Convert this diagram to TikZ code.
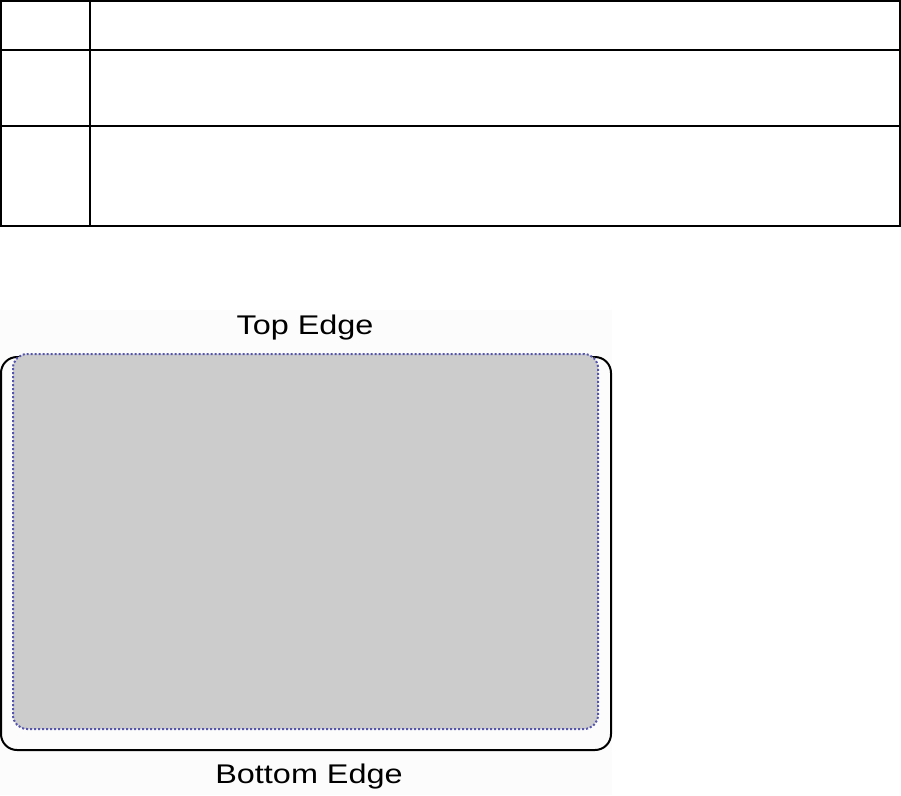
\documentclass[tikz,border=0pt]{standalone}
\usepackage{fontspec}
\setmainfont{Liberation Sans}
\usetikzlibrary{positioning}

\definecolor{cardgray}{RGB}{204,204,204}
\definecolor{dotblue}{RGB}{85,85,175}
\definecolor{backdrop}{RGB}{252,252,252}
\newcommand{\widetext}[1]{\scalebox{1.2}[1]{#1}}

\begin{document}
\begin{tikzpicture}[x=1pt,y=-1pt]

\tikzset{rule/.style = {line width=2pt, line cap=rect}}
\tikzset{cardouter/.style = {draw=black, line width=2pt, rounded corners=16pt}}
\tikzset{cardinner/.style = {fill=cardgray, draw=dotblue, line width=2pt, dash pattern=on 2pt off 2pt, rounded corners=14pt}}
\tikzset{edgetext/.style = {anchor=base, inner sep=0pt, font=\fontsize{27}{32}\selectfont}}

\useasboundingbox (0,0) rectangle (901,795);

% table
\draw[rule] (1,1) rectangle (900,226);
\draw[rule] (1,50) -- (900,50);
\draw[rule] (1,126) -- (900,126);
\draw[rule] (90,1) -- (90,226);

% card
\fill[backdrop] (0,310) rectangle (612,795);
\draw[cardouter] (1,357) rectangle (611,750);
\path[cardinner] (13,354) rectangle (598,729);

% labels
\node[edgetext] (top) at (305,334) {\widetext{Top Edge}};
\node[edgetext] (bottom) at (309,783) {\widetext{Bottom Edge}};

\end{tikzpicture}
\end{document}
